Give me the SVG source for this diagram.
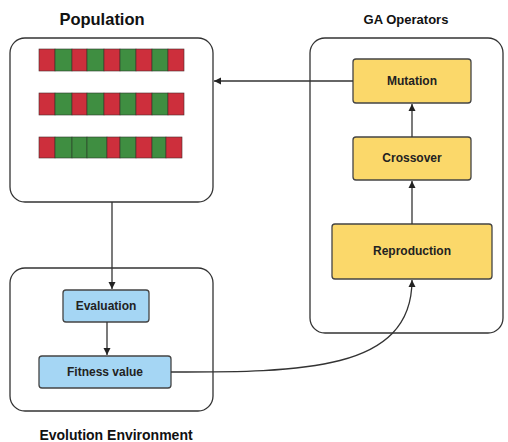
<svg xmlns="http://www.w3.org/2000/svg" width="508" height="442" viewBox="0 0 508 442">
<defs>
<marker id="arr" markerWidth="8" markerHeight="8" refX="7" refY="4" orient="auto" markerUnits="userSpaceOnUse">
<path d="M0,0.5 L7,4 L0,7.5 Z" fill="#222"/>
</marker>
<style>
.title{font-family:"Liberation Sans",Arial,sans-serif;font-weight:bold;fill:#111;text-anchor:middle}
.lbl{font-family:"Liberation Sans",Arial,sans-serif;font-weight:bold;font-size:12px;fill:#222;text-anchor:middle}
.cont{fill:#fff;stroke:#333;stroke-width:1.3}
.ga{fill:#fbd86a;stroke:#444;stroke-width:1.3}
.ev{fill:#a5d6f4;stroke:#444;stroke-width:1.3}
.r{fill:#cd2f3c;stroke:#4a2a2a;stroke-width:0.6}
.g{fill:#3f8e41;stroke:#2a3a2a;stroke-width:0.6}
.conn{fill:none;stroke:#333;stroke-width:1.3}
</style>
</defs>
<rect width="508" height="442" fill="#fff"/>

<text class="title" x="102" y="25" font-size="16.5">Population</text>
<text class="title" x="406" y="24" font-size="13">GA Operators</text>
<text class="title" x="116" y="439.5" font-size="14">Evolution Environment</text>

<g id="population">
<rect class="cont" x="10" y="38" width="203" height="164" rx="15"/>
<g id="chrom1">
<rect class="r" x="39" y="49" width="16" height="22"/>
<rect class="g" x="55" y="49" width="17" height="22"/>
<rect class="r" x="72" y="49" width="15" height="22"/>
<rect class="g" x="87" y="49" width="17" height="22"/>
<rect class="r" x="104" y="49" width="16" height="22"/>
<rect class="g" x="120" y="49" width="16" height="22"/>
<rect class="r" x="136" y="49" width="16" height="22"/>
<rect class="g" x="152" y="49" width="16" height="22"/>
<rect class="r" x="168" y="49" width="16" height="22"/>
</g>
<g id="chrom2">
<rect class="r" x="39" y="93" width="16" height="22"/>
<rect class="g" x="55" y="93" width="17" height="22"/>
<rect class="r" x="72" y="93" width="15" height="22"/>
<rect class="g" x="87" y="93" width="17" height="22"/>
<rect class="r" x="104" y="93" width="16" height="22"/>
<rect class="g" x="120" y="93" width="16" height="22"/>
<rect class="r" x="136" y="93" width="16" height="22"/>
<rect class="g" x="152" y="93" width="16" height="22"/>
<rect class="r" x="168" y="93" width="16" height="22"/>
</g>
<g id="chrom3">
<rect class="r" x="39" y="137" width="16" height="21"/>
<rect class="g" x="55" y="137" width="17" height="21"/>
<rect class="g" x="72" y="137" width="15" height="21"/>
<rect class="g" x="87" y="137" width="20" height="21"/>
<rect class="r" x="107" y="137" width="13" height="21"/>
<rect class="g" x="120" y="137" width="16" height="21"/>
<rect class="r" x="136" y="137" width="16" height="21"/>
<rect class="g" x="152" y="137" width="14" height="21"/>
<rect class="r" x="166" y="137" width="16" height="21"/>
</g>
</g>

<g id="ga-operators">
<rect class="cont" x="310" y="38" width="193" height="295" rx="15"/>
</g>
<g id="mutation">
<rect class="ga" x="353" y="59" width="118" height="44" rx="3"/>
<text class="lbl" x="412" y="85">Mutation</text>
</g>
<g id="crossover">
<rect class="ga" x="353" y="137" width="118" height="43" rx="3"/>
<text class="lbl" x="412" y="162">Crossover</text>
</g>
<g id="reproduction">
<rect class="ga" x="332" y="224" width="160" height="55" rx="3"/>
<text class="lbl" x="412" y="255">Reproduction</text>
</g>

<g id="evolution-environment">
<rect class="cont" x="10" y="268" width="203" height="143" rx="15"/>
</g>
<g id="evaluation">
<rect class="ev" x="63" y="290" width="86" height="32" rx="3"/>
<text class="lbl" x="106" y="310">Evaluation</text>
</g>
<g id="fitness">
<rect class="ev" x="39" y="356" width="132" height="32" rx="3"/>
<text class="lbl" x="105" y="376">Fitness value</text>
</g>

<g id="connectors">
<path class="conn" d="M353,81 L214,81" marker-end="url(#arr)"/>
<path class="conn" d="M412,137 L412,104" marker-end="url(#arr)"/>
<path class="conn" d="M412,224 L412,181" marker-end="url(#arr)"/>
<path class="conn" d="M112,202 L112,289" marker-end="url(#arr)"/>
<path class="conn" d="M107,322 L107,355" marker-end="url(#arr)"/>
<path class="conn" d="M171,372 C300,372 412,372 412,280" marker-end="url(#arr)"/>
</g>
</svg>
